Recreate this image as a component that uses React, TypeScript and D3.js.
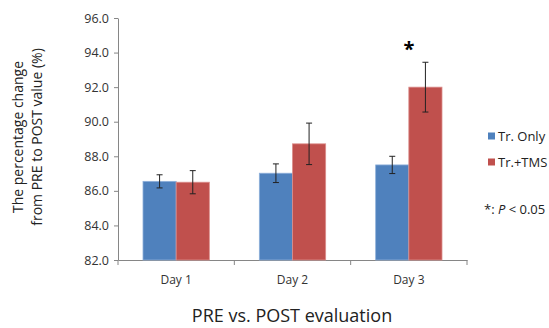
import React, { useEffect, useRef } from 'react';
import * as d3 from 'd3';

// chart data
const days = ['Day 1', 'Day 2', 'Day 3'];
const groups = ['Tr. Only', 'Tr.+TMS'];
const trOnly = [86.55, 87.02, 87.5];
const trOnlyErr = [0.38, 0.54, 0.5];
const trTms = [86.5, 88.72, 92.0];
const trTmsErr = [0.67, 1.2, 1.44];
const yTicks = [82, 84, 86, 88, 90, 92, 94, 96];
const colors = ['#4F81BD', '#C0504D'];
const strokes = ['#8EB0DA', '#DB8E8C'];

const App = () => {
    const svgRef = useRef<SVGSVGElement>(null);

    useEffect(() => {
        const svg = d3.select(svgRef.current);
        svg.selectAll('*').remove();

        const margin = { top: 18, left: 118 };
        const width = 349;
        const height = 242;
        const font = "'Open Sans', 'Liberation Sans', sans-serif";

        const x = d3.scaleBand().domain(days).range([0, width]);
        const xInner = d3.scaleBand().domain(groups).range([25, x.bandwidth() - 25]);
        const y = d3.scaleLinear().domain([82, 96]).range([height, 0]);

        const g = svg.append('g').attr('transform', `translate(${margin.left},${margin.top})`);

        // y axis
        const yAxis = g.append('g')
            .call(d3.axisLeft(y).tickValues(yTicks).tickFormat(d3.format('.1f')).tickSize(4).tickSizeOuter(0));
        yAxis.select('.domain').attr('stroke', '#868686');
        yAxis.selectAll('.tick line').attr('stroke', '#868686');
        yAxis.selectAll('text')
            .attr('font-family', font).attr('font-size', 12.5).attr('fill', '#333')
            .attr('x', -9);

        // x axis
        const xAxis = g.append('g')
            .attr('transform', `translate(0,${height})`)
            .call(d3.axisBottom(x).tickSize(0).tickSizeOuter(0));
        xAxis.select('.domain').attr('stroke', '#868686');
        xAxis.selectAll('text')
            .attr('font-family', font).attr('font-size', 12).attr('fill', '#333')
            .attr('y', 15);
        // ticks between categories
        g.append('g').selectAll('line')
            .data(d3.range(days.length + 1))
            .enter().append('line')
            .attr('x1', i => i * x.step()).attr('x2', i => i * x.step())
            .attr('y1', height).attr('y2', height + 5)
            .attr('stroke', '#868686');

        const series = [
            { name: groups[0], vals: trOnly, errs: trOnlyErr },
            { name: groups[1], vals: trTms, errs: trTmsErr },
        ];

        series.forEach((s, si) => {
            const bars = g.append('g');
            bars.selectAll('rect')
                .data(days)
                .enter().append('rect')
                .attr('x', (d) => (x(d) as number) + (xInner(s.name) as number))
                .attr('y', (d, i) => y(s.vals[i]))
                .attr('width', xInner.bandwidth())
                .attr('height', (d, i) => height - y(s.vals[i]))
                .attr('fill', colors[si])
                .attr('stroke', strokes[si])
                .attr('stroke-width', 0.8);
        });

        // error bars
        series.forEach((s) => {
            days.forEach((d, i) => {
                const cx = (x(d) as number) + (xInner(s.name) as number) + xInner.bandwidth() / 2;
                const hi = y(s.vals[i] + s.errs[i]);
                const lo = y(s.vals[i] - s.errs[i]);
                const eg = g.append('g').attr('stroke', '#222').attr('stroke-width', 1);
                eg.append('line').attr('x1', cx).attr('x2', cx).attr('y1', hi).attr('y2', lo);
                eg.append('line').attr('x1', cx - 3).attr('x2', cx + 3).attr('y1', hi).attr('y2', hi);
                eg.append('line').attr('x1', cx - 3).attr('x2', cx + 3).attr('y1', lo).attr('y2', lo);
            });
        });

        // significance star on Day 3
        g.append('text')
            .attr('x', (x('Day 3') as number) + x.bandwidth() / 2)
            .attr('y', y(trTms[2] + trTmsErr[2]) - 6)
            .attr('text-anchor', 'middle')
            .attr('font-family', font).attr('font-size', 20).attr('font-weight', 'bold')
            .text('*');

        // legend
        const legend = svg.append('g')
            .attr('transform', 'translate(488,136)')
            .selectAll('g')
            .data(groups)
            .enter().append('g')
            .attr('transform', (d, i) => `translate(0,${i * 26})`);
        legend.append('rect')
            .attr('x', 0).attr('y', -3.5).attr('width', 7).attr('height', 7)
            .attr('fill', (d, i) => colors[i]);
        legend.append('text')
            .attr('x', 10).attr('dy', '0.35em')
            .attr('font-family', font).attr('font-size', 13).attr('fill', '#222')
            .text(d => d);

        const note = svg.append('text')
            .attr('x', 484).attr('y', 209).attr('dy', '0.35em')
            .attr('font-family', font).attr('font-size', 13).attr('fill', '#222');
        note.append('tspan').text('*: ');
        note.append('tspan').attr('font-style', 'italic').text('P');
        note.append('tspan').text(' < 0.05');

        // axis titles
        const yTitle = svg.append('text')
            .attr('transform', 'translate(0,137) rotate(-90)')
            .attr('text-anchor', 'middle')
            .attr('font-family', font).attr('font-size', 14).attr('fill', '#222');
        yTitle.append('tspan').attr('x', 0).attr('y', 23).text('The percentage change');
        yTitle.append('tspan').attr('x', 0).attr('y', 42).text('from PRE to POST value (%)');

        svg.append('text')
            .attr('x', 292).attr('y', 316).attr('dy', '0.35em')
            .attr('text-anchor', 'middle')
            .attr('font-family', font).attr('font-size', 18).attr('fill', '#222')
            .text('PRE vs. POST evaluation');
    }, []);

    return (
        <svg ref={svgRef} width={549} height={328}
            style={{ position: 'absolute', left: 0, top: 0, background: '#fff' }} />
    );
};

export default App;
